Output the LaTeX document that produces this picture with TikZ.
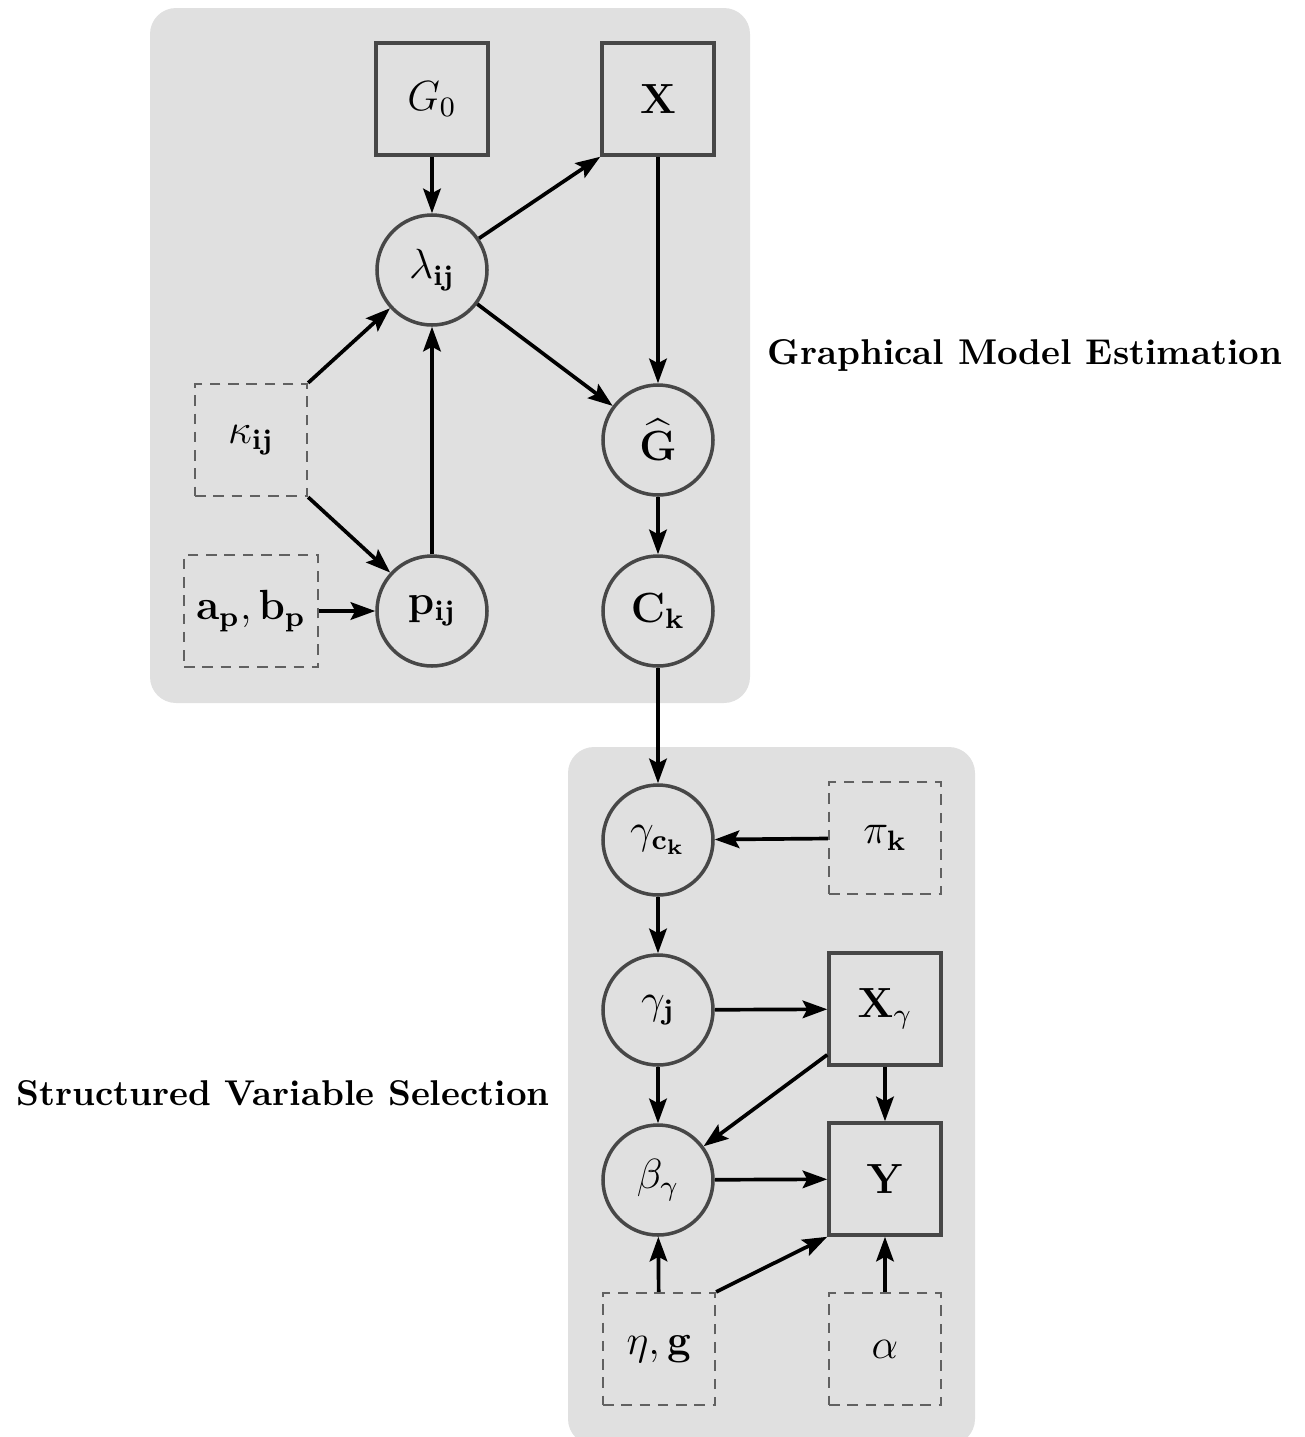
\documentclass[tikz,border=0pt]{standalone}
\usepackage{amsmath}
\usepackage{tikz}
\usetikzlibrary{positioning,calc,arrows.meta}
\tikzset{>={Stealth[length=7pt,width=5pt,inset=1.3pt]}}
\tikzset{
  latent/.style={draw=black!72,line width=1pt,circle,minimum size=1.1cm,inner sep=0pt},
  observed/.style={draw=black!72,line width=1pt,rectangle,minimum size=1.12cm,inner sep=0pt},
  hyper/.style={draw=black!62,line width=0.65pt,dash pattern=on 3pt off 2.2pt,rectangle,minimum size=1.12cm,inner sep=0pt},
  panel/.style={fill=black!12,rounded corners=0.26cm},
  edge/.style={->,line width=1.05pt}
}

\begin{document}
\begin{tikzpicture}[font=\fontsize{12}{14.4}\selectfont]
\useasboundingbox (0,0) rectangle (13.05,-14.37);

% Shaded panels
\fill[panel] (1.50,-0.08) rectangle (7.50,-7.03);
\fill[panel] (5.68,-7.47) rectangle (9.75,-14.45);

% Graphical model estimation part
\node[observed] (G0) at (4.32,-0.99) {$G_0$};
\node[observed] (X) at (6.58,-0.99) {$\mathbf{X}$};
\node[latent] (lam) at (4.32,-2.70) {$\lambda_{\mathbf{ij}}$};
\node[hyper] (kap) at (2.51,-4.40) {$\kappa_{\mathbf{ij}}$};
\node[latent] (Ghat) at (6.58,-4.40) {$\widehat{\mathbf{G}}$};
\node[hyper,minimum width=1.34cm] (ab) at (2.51,-6.11) {$\mathbf{a_p},\mathbf{b_p}$};
\node[latent] (p) at (4.32,-6.11) {$\mathbf{p_{ij}}$};
\node[latent] (C) at (6.58,-6.11) {$\mathbf{C_k}$};

% Structured variable selection part
\node[latent] (gc) at (6.58,-8.40) {$\gamma_{\mathbf{c_k}}$};
\node[hyper] (pi) at (8.85,-8.38) {$\pi_{\mathbf{k}}$};
\node[latent] (gj) at (6.58,-10.10) {$\gamma_{\mathbf{j}}$};
\node[observed] (Xg) at (8.85,-10.09) {$\mathbf{X}_\gamma$};
\node[latent] (beta) at (6.58,-11.80) {$\beta_\gamma$};
\node[observed] (Y) at (8.85,-11.79) {$\mathbf{Y}$};
\node[hyper] (eg) at (6.59,-13.49) {$\eta,\mathbf{g}$};
\node[hyper] (alpha) at (8.85,-13.49) {$\alpha$};

% Panel titles
\node[font=\fontsize{10.2}{12}\selectfont\bfseries] (gme) at (10.25,-3.55) {Graphical Model Estimation};
\node[font=\fontsize{10.2}{12}\selectfont\bfseries] (svs) at (2.83,-10.93) {Structured Variable Selection};

% Edges of the upper part
\draw[edge] (G0) -- (lam);
\draw[edge] (lam) -- (X.south west);
\draw[edge] (X) -- (Ghat);
\draw[edge] (lam) -- (Ghat);
\draw[edge] (kap.north east) -- (lam);
\draw[edge] (kap.south east) -- (p);
\draw[edge] (p) -- (lam);
\draw[edge] (ab) -- (p);
\draw[edge] (Ghat) -- (C);

% Link between the two parts
\draw[edge] (C) -- (gc);

% Edges of the lower part
\draw[edge] (pi) -- (gc);
\draw[edge] (gc) -- (gj);
\draw[edge] (gj) -- (Xg);
\draw[edge] (gj) -- (beta);
\draw[edge] ($(Xg.south west)+(0,0.12)$) -- (beta);
\draw[edge] (Xg) -- (Y);
\draw[edge] (beta) -- (Y);
\draw[edge] (eg) -- (beta);
\draw[edge] (eg.north east) -- (Y.south west);
\draw[edge] (alpha) -- (Y);

\end{tikzpicture}
\end{document}
